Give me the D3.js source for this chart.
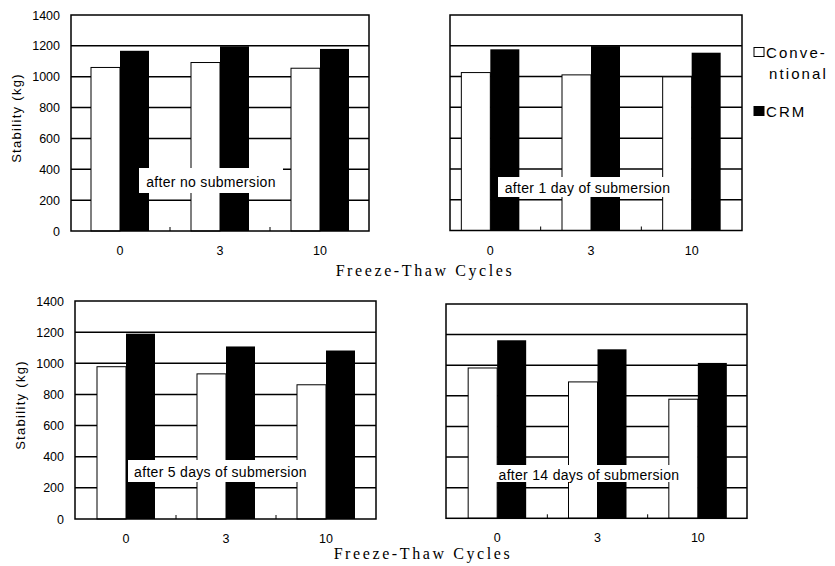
<!DOCTYPE html>
<html>
<head>
<meta charset="utf-8">
<script src="https://cdn.jsdelivr.net/npm/d3@7"></script>
<style>
  html, body { margin: 0; padding: 0; background: #fff; }
  svg { display: block; }
</style>
</head>
<body>
<svg id="chart" width="835" height="566"></svg>
<script>
// ---- data ----
const categories = ["0", "3", "10"];
const seriesNames = ["Conventional", "CRM"];
const panelTitles = ["after no submersion", "after 1 day of submersion", "after 5 days of submersion", "after 14 days of submersion"];
const conventional = [
  [1060, 1092, 1055],
  [1026, 1011, 998],
  [978, 932, 862],
  [982, 891, 778]
];
const crm = [
  [1168, 1197, 1180],
  [1177, 1198, 1155],
  [1190, 1108, 1082],
  [1163, 1104, 1015]
];
const yTicks = [0, 200, 400, 600, 800, 1000, 1200, 1400];
const legendLines = [["Conve-", "ntional"], ["CRM"]];
const xTitle = "Freeze-Thaw Cycles";
const yTitle = "Stability (kg)";

// ---- layout ----
const panels = [
  { fx: [71, 369], fy: [15, 231], band: [70, 370], yLabels: true, catY: 252, box: [139, 168, 144, 25] },
  { fx: [450, 742], fy: [15, 230.5], band: [440, 742], yLabels: false, catY: 252, box: [498, 177, 179, 20] },
  { fx: [75, 376], fy: [301, 519], band: [76, 376], yLabels: true, catY: 540, box: [128, 460, 185, 22] },
  { fx: [446, 747], fy: [304, 518.3], band: [447, 748], yLabels: false, catY: 539, box: [495, 465, 188, 17] }
];
const barW = 29;
const sans = "'Liberation Sans', Arial, Helvetica, sans-serif";
const serif = "'Liberation Serif', 'Times New Roman', serif";

const svg = d3.select("#chart");

panels.forEach((p, i) => {
  const g = svg.append("g");
  const y = d3.scaleLinear().domain([0, 1400]).range([p.fy[1], p.fy[0]]);
  const x = d3.scaleBand().domain(categories).range(p.band).padding(0);
  const xs = d3.scaleBand().domain(seriesNames)
    .range([x.bandwidth() / 2 - barW, x.bandwidth() / 2 + barW]).padding(0);

  // gridlines
  g.append("g").selectAll("line").data(yTicks.filter(t => t > 0 && t < 1400)).join("line")
    .attr("x1", p.fx[0]).attr("x2", p.fx[1])
    .attr("y1", d => y(d)).attr("y2", d => y(d))
    .attr("stroke", "#000").attr("stroke-width", 1.5);

  // bars
  const rows = categories.map((c, j) => ({ c, conv: conventional[i][j], crm: crm[i][j] }));
  const grp = g.append("g").selectAll("g").data(rows).join("g")
    .attr("transform", d => `translate(${x(d.c)},0)`);
  grp.append("rect")
    .attr("x", xs("Conventional")).attr("width", xs.bandwidth())
    .attr("y", d => y(d.conv)).attr("height", d => y(0) - y(d.conv))
    .attr("fill", "#fff").attr("stroke", "#000").attr("stroke-width", 1);
  grp.append("rect")
    .attr("x", xs("CRM")).attr("width", xs.bandwidth())
    .attr("y", d => y(d.crm)).attr("height", d => y(0) - y(d.crm))
    .attr("fill", "#000");

  // frame
  g.append("rect")
    .attr("x", p.fx[0]).attr("y", y(1400))
    .attr("width", p.fx[1] - p.fx[0]).attr("height", y(0) - y(1400))
    .attr("fill", "none").attr("stroke", "#000").attr("stroke-width", 1.5);

  // inner category boundary ticks
  g.append("g").selectAll("line").data(categories.slice(1)).join("line")
    .attr("x1", d => x(d)).attr("x2", d => x(d))
    .attr("y1", y(0)).attr("y2", y(0) - 4)
    .attr("stroke", "#000").attr("stroke-width", 1);

  // y axis labels
  if (p.yLabels) {
    const ax = g.append("g").attr("transform", `translate(${p.fx[0]},0)`)
      .call(d3.axisLeft(y).tickValues(yTicks).tickSize(0).tickPadding(11).tickFormat(d3.format("d")));
    ax.select(".domain").remove();
    ax.selectAll("text").attr("font-family", sans).attr("font-size", 12.5).attr("fill", "#000");
    g.append("text")
      .attr("transform", `translate(${p.fx[0] - 55},${(y(0) + y(1400)) / 2 - 5}) rotate(-90)`)
      .attr("text-anchor", "middle").attr("dominant-baseline", "central")
      .attr("font-family", sans).attr("font-size", 13).attr("letter-spacing", 1.3)
      .text(yTitle);
  }

  // x category labels
  const xa = g.append("g").attr("transform", `translate(0,${p.catY - 10})`)
    .call(d3.axisBottom(x).tickSize(0).tickPadding(4));
  xa.select(".domain").remove();
  xa.selectAll("text").attr("font-family", sans).attr("font-size", 12.5).attr("fill", "#000");

  // annotation box
  g.append("rect").attr("x", p.box[0]).attr("y", p.box[1])
    .attr("width", p.box[2]).attr("height", p.box[3]).attr("fill", "#fff");
  g.append("text")
    .attr("x", p.box[0] + p.box[2] / 2).attr("y", p.box[1] + p.box[3] / 2 + 1)
    .attr("text-anchor", "middle").attr("dominant-baseline", "central")
    .attr("font-family", sans).attr("font-size", 14).attr("letter-spacing", 0.3)
    .text(panelTitles[i]);
});

// x titles
[[425, 270], [423, 553]].forEach(([cx, cy]) => {
  svg.append("text").attr("x", cx).attr("y", cy)
    .attr("text-anchor", "middle").attr("dominant-baseline", "central")
    .attr("font-family", serif).attr("font-size", 16).attr("letter-spacing", 2.6)
    .text(xTitle);
});

// legend
const legend = svg.append("g");
const legendY = [52, 111];
seriesNames.forEach((s, k) => {
  legend.append("rect").attr("x", 754).attr("y", legendY[k] - 4.5).attr("width", 10).attr("height", 9)
    .attr("fill", k === 0 ? "#fff" : "#000").attr("stroke", "#000").attr("stroke-width", 1);
  legendLines[k].forEach((t, m) => {
    legend.append("text").attr("x", m === 0 ? 766 : 769).attr("y", legendY[k] + m * 21)
      .attr("dominant-baseline", "central")
      .attr("font-family", sans).attr("font-size", 15).attr("letter-spacing", 2.1)
      .text(t);
  });
});
</script>
</body>
</html>
